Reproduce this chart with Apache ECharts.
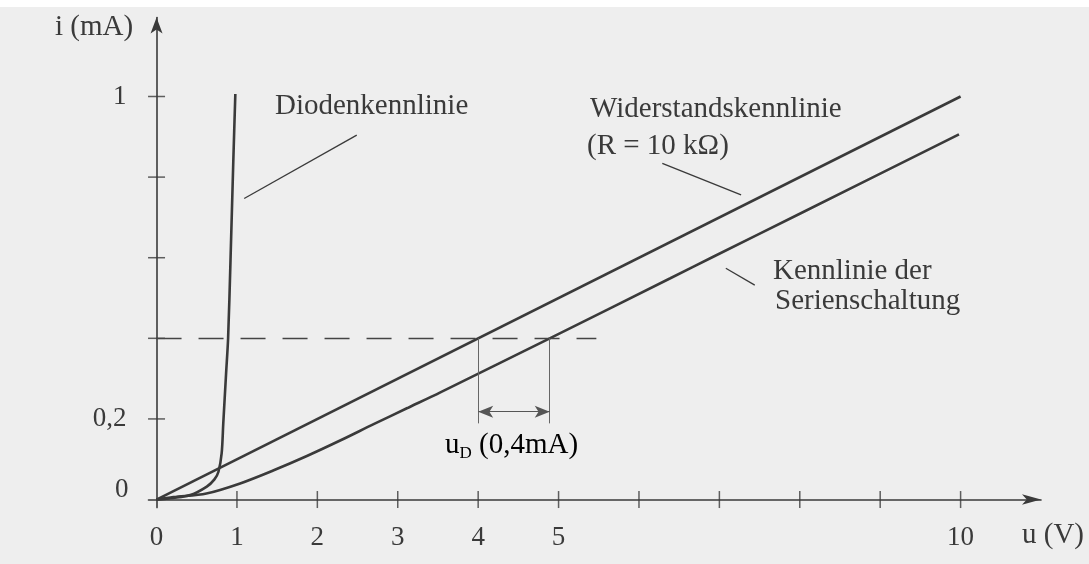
<!DOCTYPE html>
<html>
<head>
<meta charset="utf-8">
<script src="https://cdn.jsdelivr.net/npm/echarts@6/dist/echarts.min.js"></script>
<style>
  html, body { margin: 0; padding: 0; background: #eeeeee; }
  #chart { width: 1089px; height: 564px; }
</style>
</head>
<body>
<div id="chart"></div>
<script>
// Voltage u in V, current i in mA
const uTickValues = [1, 2, 3, 4, 5, 6, 7, 8, 9, 10];
const iTickValues = [0.2, 0.4, 0.6, 0.8, 1.0];
const uLabelValues = [0, 1, 2, 3, 4, 5, 10];
const iLabelValues = [0, 0.2, 1];

// Diodenkennlinie
const diodeU = [0, 0.21, 0.42, 0.625, 0.72, 0.77, 0.81, 0.83, 0.865, 0.89, 0.92, 0.955, 0.98];
const diodeI = [0, 0.004, 0.011, 0.032, 0.05, 0.069, 0.115, 0.189, 0.313, 0.4, 0.594, 0.842, 1.006];

// Widerstandskennlinie, R = 10 kOhm
const resistorU = [0, 10];
const resistorI = [0, 1.0];

// Kennlinie der Serienschaltung
const seriesU = [0, 0.21, 0.62, 1.04, 1.45, 1.87, 2.29, 2.70, 3.12, 3.53, 4.89, 6.39, 6.93, 8.0, 9.98];
const seriesI = [0, 0.006, 0.015, 0.04, 0.072, 0.108, 0.147, 0.187, 0.227, 0.266, 0.4, 0.549, 0.603, 0.709, 0.906];

// Leader lines from the captions to the curves (u, i)
const diodeLeader = [[1.09, 0.747], [2.49, 0.904]];
const resistorLeader = [[6.29, 0.834], [7.27, 0.756]];
const seriesLeader = [[7.08, 0.574], [7.44, 0.532]];

// Diode voltage at 0.4 mA: gap between resistor line and series curve
const iMark = 0.4;
const uMarkA = 4.0;
const uMarkB = 4.89;
const dashEndU = 5.47;
const dimBottomI = 0.189;
const dimArrowI = 0.218;

const ink = '#3a3a3a';
const serif = "'Liberation Serif', 'Times New Roman', serif";

const pairs = (xs, ys) => xs.map((x, k) => [x, ys[k]]);

const chart = echarts.init(document.getElementById('chart'));

const caption = (text, x, y) => ({
  type: 'text', silent: true,
  style: { text, x, y, font: '29px ' + serif, fill: ink,
    align: 'left', verticalAlign: 'middle', textAlign: 'left', textVerticalAlign: 'middle' }
});

chart.setOption({
  backgroundColor: '#eeeeee',
  animation: false,
  grid: { left: 148.5, right: 48, top: 17.5, bottom: 56.4, outerBoundsMode: 'none' },
  xAxis: {
    type: 'value', min: -0.1, max: 11,
    axisLine: { onZero: true, symbol: ['none', 'arrow'], symbolSize: [8, 19],
      lineStyle: { color: ink, width: 1.6 } },
    axisTick: { show: false },
    splitLine: { show: false },
    axisLabel: { customValues: uLabelValues, margin: 17, color: ink,
      fontFamily: serif, fontSize: 27 }
  },
  yAxis: {
    type: 'value', min: -0.02, max: 1.196,
    axisLine: { onZero: true, symbol: ['none', 'arrow'], symbolSize: [9, 16],
      lineStyle: { color: ink, width: 1.6 } },
    axisTick: { show: false },
    splitLine: { show: false },
    axisLabel: {
      customValues: iLabelValues, margin: 22, color: ink,
      fontFamily: serif, fontSize: 27,
      formatter: v => v === 0 ? '{z|0}' : String(v).replace('.', ','),
      rich: { z: { fontFamily: serif, fontSize: 27, color: ink, padding: [0, -2, 20, 0] } }
    }
  },
  series: [
    {
      type: 'scatter', silent: true, symbol: 'rect', symbolSize: [1.5, 17],
      itemStyle: { color: ink },
      data: uTickValues.map(u => [u, 0])
    },
    {
      type: 'scatter', silent: true, symbol: 'rect', symbolSize: [17, 1.5],
      itemStyle: { color: ink },
      data: iTickValues.map(i => [0, i])
    },
    {
      name: 'Diodenkennlinie', type: 'line', showSymbol: false, smooth: 0.3,
      lineStyle: { color: ink, width: 2.6 },
      data: pairs(diodeU, diodeI)
    },
    {
      name: 'Widerstandskennlinie', type: 'line', showSymbol: false,
      lineStyle: { color: ink, width: 2.6 },
      data: pairs(resistorU, resistorI)
    },
    {
      name: 'Serienschaltung', type: 'line', showSymbol: false, smooth: 0.3,
      lineStyle: { color: ink, width: 2.6 },
      data: pairs(seriesU, seriesI),
      markLine: {
        silent: true, symbol: 'none', label: { show: false },
        lineStyle: { color: ink, width: 1.3, type: 'solid' },
        data: [
          [{ coord: diodeLeader[0] }, { coord: diodeLeader[1] }],
          [{ coord: resistorLeader[0] }, { coord: resistorLeader[1] }],
          [{ coord: seriesLeader[0] }, { coord: seriesLeader[1] }],
          [{ coord: [0, iMark], lineStyle: { type: [25, 17], width: 1.4, color: '#444' } },
           { coord: [dashEndU, iMark] }],
          [{ coord: [uMarkA, iMark], lineStyle: { width: 1, color: '#666' } },
           { coord: [uMarkA, dimBottomI] }],
          [{ coord: [uMarkB, iMark], lineStyle: { width: 1, color: '#666' } },
           { coord: [uMarkB, dimBottomI] }],
          [{ coord: [uMarkA, dimArrowI], symbol: 'arrow', symbolSize: [9, 15],
             lineStyle: { width: 1.1, color: '#555' } },
           { coord: [uMarkB, dimArrowI], symbol: 'arrow', symbolSize: [9, 15] }]
        ]
      }
    }
  ],
  graphic: [
    { type: 'rect', silent: true, z: 100, shape: { x: 0, y: 0, width: 1089, height: 7 },
      style: { fill: '#ffffff' } },
    caption('i (mA)', 55, 27),
    caption('Diodenkennlinie', 275, 106),
    caption('Widerstandskennlinie', 590, 109),
    caption('(R = 10 kΩ)', 587, 146),
    caption('Kennlinie der', 773, 271),
    caption('Serienschaltung', 775, 301),
    caption('u (V)', 1022, 535),
    { type: 'text', silent: true, style: {
      text: '{u|u}{d|D}{t| (0,4mA)}', x: 445, y: 445,
      align: 'left', verticalAlign: 'middle', textAlign: 'left', textVerticalAlign: 'middle',
      rich: {
        u: { fontFamily: serif, fontSize: 29, color: ink, lineHeight: 34 },
        d: { fontFamily: serif, fontSize: 17, color: ink, verticalAlign: 'bottom', lineHeight: 20 },
        t: { fontFamily: serif, fontSize: 29, color: ink, lineHeight: 34 }
      } } }
  ]
});
</script>
</body>
</html>
